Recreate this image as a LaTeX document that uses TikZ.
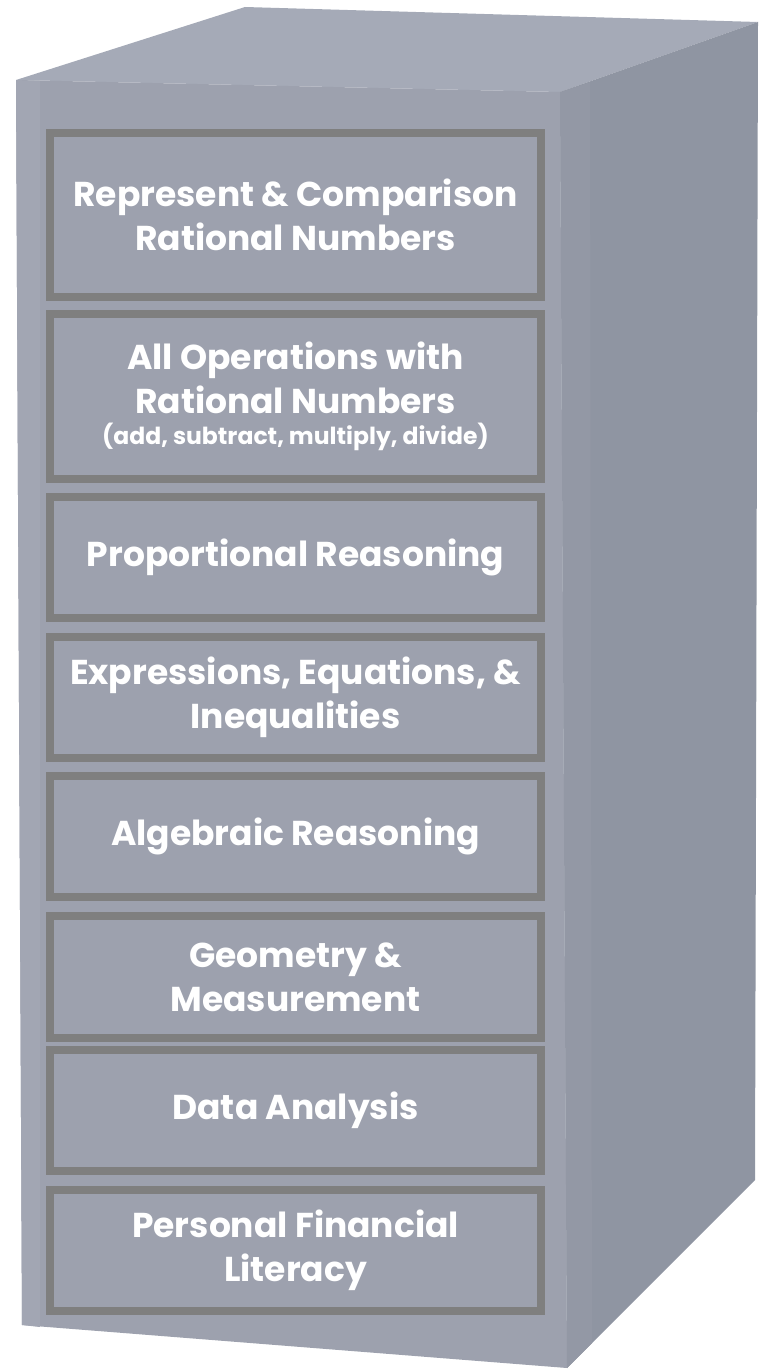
\documentclass[tikz,border=0pt]{standalone}
\usepackage{fontspec}
\setmainfont{Poppins}
\definecolor{frontc}{HTML}{9DA1AE}
\definecolor{topc}{HTML}{A5AAB7}
\definecolor{sidec}{HTML}{8F95A2}
\definecolor{edgec}{HTML}{A2A6B3}
\definecolor{drawc}{HTML}{7F7F7F}
\begin{document}
\begin{tikzpicture}[x=1pt,y=-1pt,
  drawer/.style={draw=drawc,line width=8pt,fill=frontc,minimum width=491pt,
    inner sep=0pt,align=center,text=white,
    font=\fontsize{34.5}{44}\selectfont\bfseries}]
\useasboundingbox (0,0) rectangle (762,1370);
% cabinet faces
\fill[topc] (16,80) -- (245,7) -- (758,22) -- (560,92) -- cycle;
\fill[sidec] (560,92) -- (758,22) -- (755,1180) -- (567,1368) -- cycle;
\fill[frontc] (16,80) -- (560,92) -- (567,1368) -- (22,1325) -- cycle;
\fill[edgec] (16,80) -- (40,81) -- (40,1327) -- (22,1325) -- cycle;
\fill[sidec!70!frontc] (560,92) -- (590,82) -- (592,1343) -- (567,1368) -- cycle;
% drawers
\node[drawer,minimum height=164pt] (d1) at (295.5,215)
  {Represent \& Comparison\\Rational Numbers};
\node[drawer,minimum height=165pt] (d2) at (295.5,396.5)
  {All Operations with\\Rational Numbers\\[-13pt]{\fontsize{23.5}{28}\selectfont(add, subtract, multiply, divide)}};
\node[drawer,minimum height=121pt] (d3) at (295.5,557.5) {Proportional Reasoning};
\node[drawer,minimum height=121pt] (d4) at (295.5,697.5) {Expressions, Equations, \&\\Inequalities};
\node[drawer,minimum height=121pt] (d5) at (295.5,836.5) {Algebraic Reasoning};
\node[drawer,minimum height=122pt] (d6) at (295.5,977) {Geometry \&\\Measurement};
\node[drawer,minimum height=121pt] (d7) at (295.5,1110.5) {Data Analysis};
\node[drawer,minimum height=121pt] (d8) at (295.5,1250.5) {Personal Financial\\Literacy};
\end{tikzpicture}
\end{document}
